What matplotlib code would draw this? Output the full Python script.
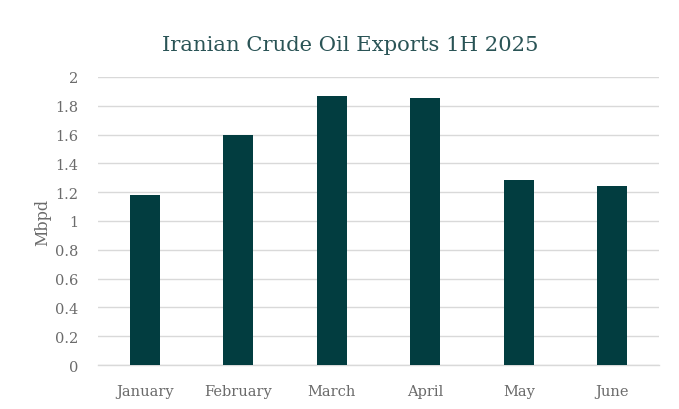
import matplotlib
matplotlib.use("Agg")
import matplotlib.pyplot as plt

months = ["January", "February", "March", "April", "May", "June"]
exports_mbpd = [1.18, 1.60, 1.87, 1.855, 1.285, 1.24]
yticks = [0, 0.2, 0.4, 0.6, 0.8, 1, 1.2, 1.4, 1.6, 1.8, 2]
ytick_labels = ["0", "0.2", "0.4", "0.6", "0.8", "1", "1.2", "1.4", "1.6", "1.8", "2"]

BAR = "#023d40"
TITLE = "#2a5456"
TEXT = "#6b6b6b"
GRID = "#d9d9d9"

plt.rcParams["font.family"] = ["DejaVu Serif"]

fig = plt.figure(figsize=(6.79, 4.10), dpi=100)
ax = fig.add_axes([0.1443, 0.1073, 0.8263, 0.7025])

x = range(len(months))
ax.bar(x, exports_mbpd, width=0.32, color=BAR, zorder=3)

ax.set_xlim(-0.5, len(months) - 0.5)
ax.set_ylim(0, 2)
ax.set_yticks(yticks)
ax.set_yticklabels(ytick_labels)
ax.set_xticks(list(x))
ax.set_xticklabels(months)
ax.tick_params(axis="both", length=0, colors=TEXT, labelsize=10.5)
ax.tick_params(axis="y", pad=14)
ax.tick_params(axis="x", pad=14)

ax.grid(axis="y", color=GRID, lw=1.0, zorder=0)
for s in ["top", "right", "left"]:
    ax.spines[s].set_visible(False)
ax.spines["bottom"].set_color(GRID)
ax.spines["bottom"].set_linewidth(1.0)

ax.set_ylabel("Mbpd", color=TEXT, fontsize=11.5, labelpad=3)
fig.text(0.5155, 0.89, "Iranian Crude Oil Exports 1H 2025", ha="center",
         va="center", fontsize=15.2, color=TITLE)

fig.savefig("out.png", dpi=100)
